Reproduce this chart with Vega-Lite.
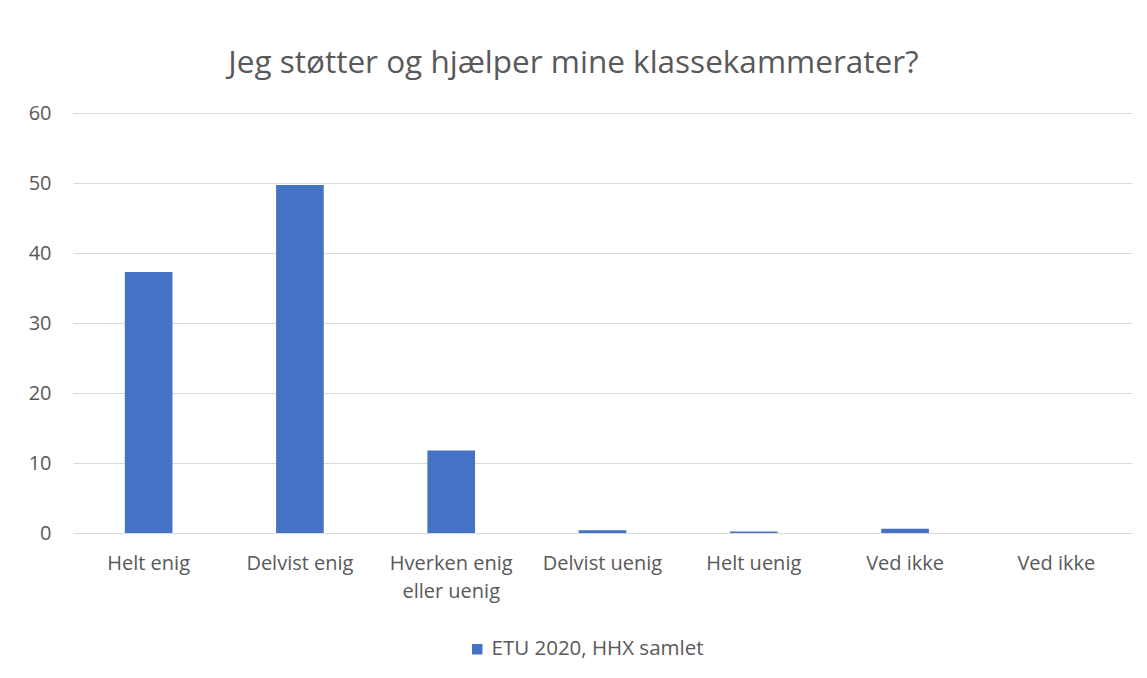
{
  "$schema": "https://vega.github.io/schema/vega-lite/v6.json",
  "autosize": "none",
  "width": 1059,
  "height": 420,
  "padding": {"left": 73, "top": 113, "right": 15, "bottom": 145},
  "background": "white",
  "title": {
    "text": "Jeg støtter og hjælper mine klassekammerater?",
    "anchor": "middle",
    "font": "Open Sans",
    "fontSize": 31.5,
    "fontWeight": "normal",
    "color": "#595959",
    "offset": 24,
    "dx": -29
  },
  "data": {
    "values": [
      {"kat": "Helt enig", "andel": 37.3, "serie": "ETU 2020, HHX samlet"},
      {"kat": "Delvist enig", "andel": 49.7, "serie": "ETU 2020, HHX samlet"},
      {"kat": "Hverken enig eller uenig", "andel": 11.8, "serie": "ETU 2020, HHX samlet"},
      {"kat": "Delvist uenig", "andel": 0.4, "serie": "ETU 2020, HHX samlet"},
      {"kat": "Helt uenig", "andel": 0.2, "serie": "ETU 2020, HHX samlet"},
      {"kat": "Ved ikke", "andel": 0.6, "serie": "ETU 2020, HHX samlet"},
      {"kat": "Ved ikke ", "andel": 0, "serie": "ETU 2020, HHX samlet"}
    ]
  },
  "mark": {"type": "bar", "width": {"band": 0.315}},
  "encoding": {
    "x": {
      "field": "kat",
      "type": "nominal",
      "sort": null,
      "scale": {"paddingInner": 0, "paddingOuter": 0},
      "axis": {
        "title": null,
        "labelAngle": 0,
        "labelFont": "Open Sans",
        "labelFontSize": 20,
        "labelColor": "#595959",
        "labelPadding": 20,
        "labelLineHeight": 28,
        "labelLimit": 300,
        "ticks": false,
        "domainColor": "#d9d9d9",
        "domainWidth": 1,
        "labelExpr": "datum.value == 'Hverken enig eller uenig' ? ['Hverken enig', 'eller uenig'] : datum.value"
      }
    },
    "y": {
      "field": "andel",
      "type": "quantitative",
      "scale": {"domain": [0, 60]},
      "axis": {
        "title": null,
        "values": [0, 10, 20, 30, 40, 50, 60],
        "labelFont": "Open Sans",
        "labelFontSize": 20,
        "labelColor": "#595959",
        "labelPadding": 22,
        "ticks": false,
        "domain": false,
        "gridColor": "#d9d9d9",
        "gridWidth": 1
      }
    },
    "color": {
      "field": "serie",
      "type": "nominal",
      "scale": {"range": ["#4472C4"]},
      "legend": {
        "title": null,
        "orient": "none",
        "legendX": 394,
        "legendY": 526,
        "symbolType": "square",
        "symbolSize": 110,
        "labelFont": "Open Sans",
        "labelFontSize": 20.5,
        "labelColor": "#595959",
        "labelOffset": 4,
        "labelLimit": 400
      }
    }
  },
  "config": {"view": {"stroke": null}}
}
